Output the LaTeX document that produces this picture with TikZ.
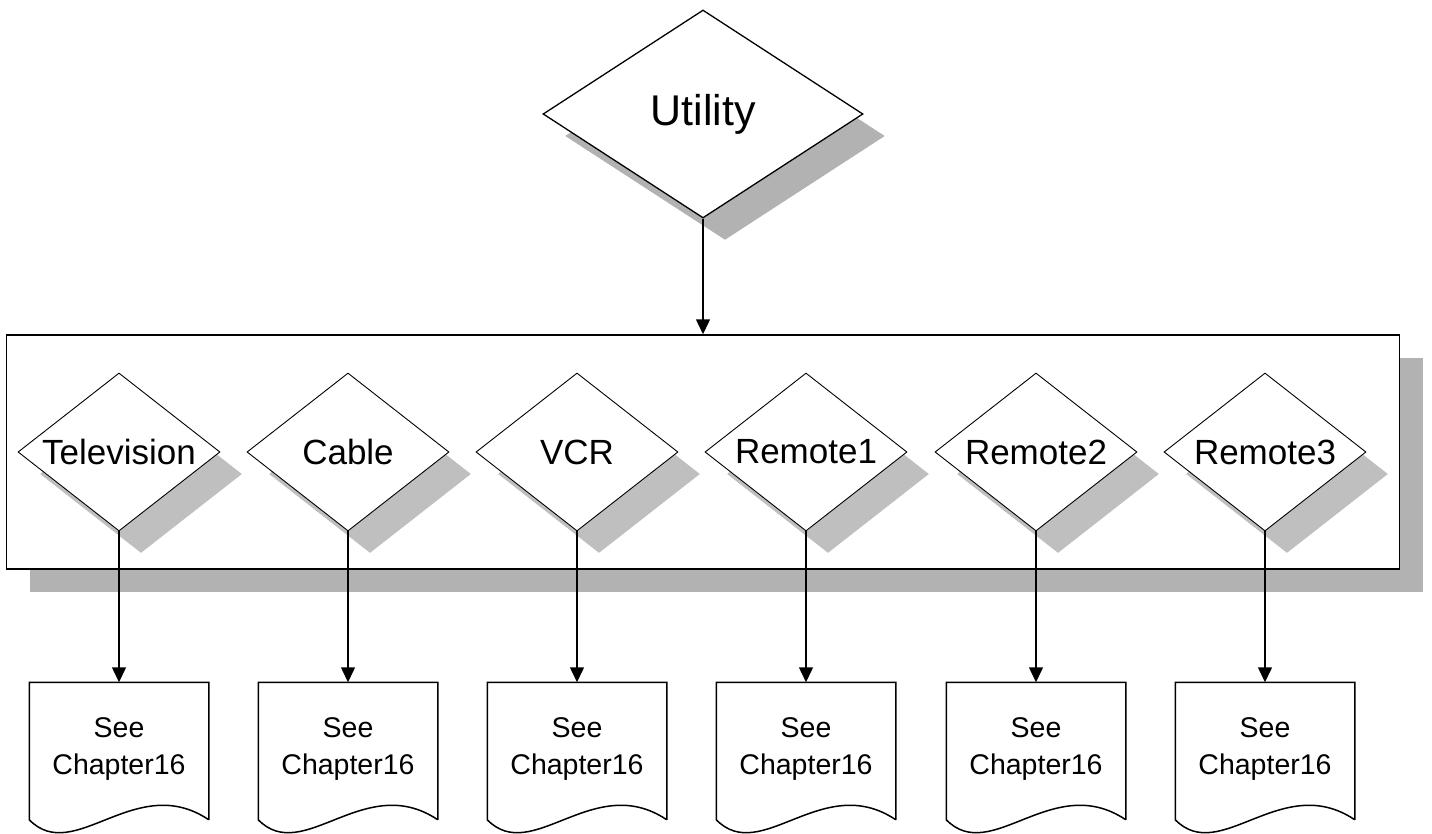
\documentclass[tikz,border=0pt]{standalone}
\usepackage{fontspec}
\setmainfont{Liberation Sans}
\usetikzlibrary{shapes.geometric,shadows,arrows.meta}

\tikzset{
  bigdiam/.style={shape=diamond, draw=black, fill=white, line width=1.3pt, aspect=1.54,
    minimum width=320pt, minimum height=208pt, inner sep=0pt,
    font=\fontsize{43}{50}\selectfont,
    drop shadow={shadow xshift=22pt, shadow yshift=-22pt, fill=black!30, opacity=1}},
  smalldiam/.style={shape=diamond, draw=black, fill=white, line width=0.9pt, aspect=1.28,
    minimum width=202pt, minimum height=158pt, inner sep=0pt,
    font=\fontsize{35}{40}\selectfont,
    drop shadow={shadow xshift=22pt, shadow yshift=-22pt, fill=black!25, opacity=1}},
  groupbox/.style={shape=rectangle, draw=black, fill=white, line width=1.5pt,
    minimum width=1393pt, minimum height=234pt,
    drop shadow={shadow xshift=23pt, shadow yshift=-23pt, fill=black!30, opacity=1}},
  docbox/.style={shape=rectangle, minimum width=178pt, minimum height=136pt, inner sep=0pt,
    align=center, font=\fontsize{28.5}{37}\selectfont},
  docline/.style={draw=black, line width=1.5pt},
}

\begin{document}
\begin{tikzpicture}[x=1pt, y=-1pt, >={Triangle[length=15pt,width=14pt]}, line width=1.5pt]
    \useasboundingbox (0,0) rectangle (1432,834);
    \node[bigdiam] (U) at (703,114) {Utility};
    \node[groupbox] (G) at (703,452) {};
    \path [->] (U) edge (G);
    \foreach \name/\x/\txt in {tv/119/Television, cab/348/Cable, vcr/577/VCR,
        rem1/806/Remote1, rem2/1036/Remote2, rem3/1265/Remote3} {
      \node[smalldiam] (\name) at (\x,452) {\txt};
      \node[docbox] (\name doc) at (\x,751) {See\\Chapter16\\[-27pt]};
      \draw[docline] (\name doc.south east) -- (\name doc.north east) -- (\name doc.north west)
        -- (\name doc.south west)
        .. controls ([xshift=45pt,yshift=-46pt]\name doc.south west)
        and ([xshift=-73pt,yshift=49pt]\name doc.south east) .. (\name doc.south east);
      \path [->] (\name) edge (\name doc);
    }
\end{tikzpicture}
\end{document}
